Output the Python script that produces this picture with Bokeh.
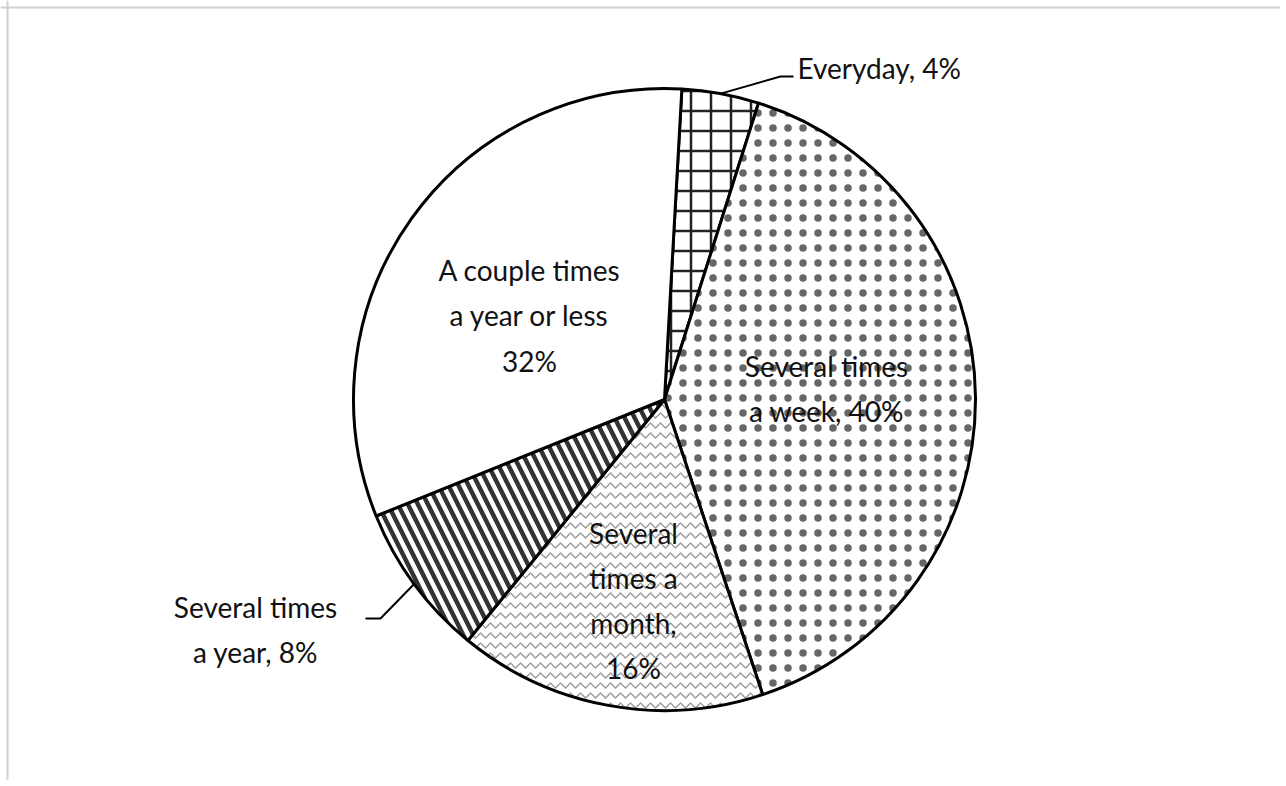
import math
from bokeh.plotting import figure
from bokeh.models import ColumnDataSource, Range1d, Span
from bokeh.core.properties import value
from bokeh.embed import file_html
from bokeh.resources import INLINE

# ---- data ----
categories = ["Everyday", "Several times a week", "Several times a month",
              "Several times a year", "A couple times a year or less"]
shares = [4, 40, 16, 8, 32]
label_texts = ["Everyday, 4%", "Several times\na week, 40%", "Several\ntimes a\nmonth,\n16%",
               "Several times\na year, 8%", "A couple times\na year or less\n32%"]

# ---- styles ----
patterns = ["cross", "dot", "horizontal_wave", "left_diagonal_line", " "]
hatch_scales = [20, 15, 10, 20, 12]
hatch_weights = [2.5, 0.1, 1.3, 4.5, 1]
hatch_colors = ["#222222", "#666666", "#9a9a9a", "#333333", "#ffffff"]

# ---- layout ----
W, H = 1280, 780
OX, OY = 0, 0              # page position of the figure
CX, CY = 664, 399          # page position of pie centre
R = 311
ROT = 3.2                  # first slice starts 3.2 deg clockwise from top

# label anchors (data coordinates relative to pie centre), alignment
label_pos = [(133, 332), (162, 11), (-31, -201), (-409, -230), (-135, 84)]
label_align = ["left", "center", "center", "center", "center"]

total = sum(shares)
starts, ends, mids = [], [], []
acc = ROT
for s in shares:
    a0 = acc
    a1 = acc + 360.0 * s / total
    starts.append(math.radians(90 - a1))
    ends.append(math.radians(90 - a0))
    mids.append((a0 + a1) / 2)
    acc = a1

src = ColumnDataSource(dict(
    cat=categories, share=shares, start=starts, end=ends,
    pat=patterns, hs=hatch_scales, hw=hatch_weights, hc=hatch_colors,
))

x0 = OX - CX
y1 = CY - OY
p = figure(width=W, height=H, output_backend="svg", toolbar_location=None,
           x_range=Range1d(x0, x0 + W), y_range=Range1d(y1 - H, y1),
           min_border=0, outline_line_color=None)
p.axis.visible = False
p.grid.visible = False
p.background_fill_color = "white"
p.border_fill_color = "white"

p.wedge(x=0, y=0, radius=R, start_angle="start", end_angle="end",
        direction="anticlock", source=src,
        fill_color="white", line_color="black", line_width=3,
        hatch_pattern="pat", hatch_scale="hs", hatch_weight="hw",
        hatch_color="hc")

# leader lines (Everyday and Several times a year)
def edge(deg, r=R):
    t = math.radians(deg)
    return r * math.sin(t), r * math.cos(t)

ex, ey = edge(mids[0])
p.line([ex, 116, 129], [ey, 323, 323], line_color="black", line_width=2)
yx, yy = edge(mids[3])
p.line([yx, -284, -299], [yy, -219, -219], line_color="black", line_width=2)

lsrc = ColumnDataSource(dict(
    x=[q[0] for q in label_pos], y=[q[1] for q in label_pos],
    t=label_texts, al=label_align))
p.text(x="x", y="y", text="t", source=lsrc, text_align="al",
       text_baseline="middle", text_font=value("Lato"),
       text_font_size="28px", text_color="#111111", text_line_height=1.33)

# light frame (top and left), as in the reference screenshot
p.add_layout(Span(location=CY - 7, dimension="width", line_color="#d0d0d0", line_width=2))
p.add_layout(Span(location=7 - CX, dimension="height", line_color="#d0d0d0", line_width=2))

open("out.html", "w").write(file_html(p, INLINE))
